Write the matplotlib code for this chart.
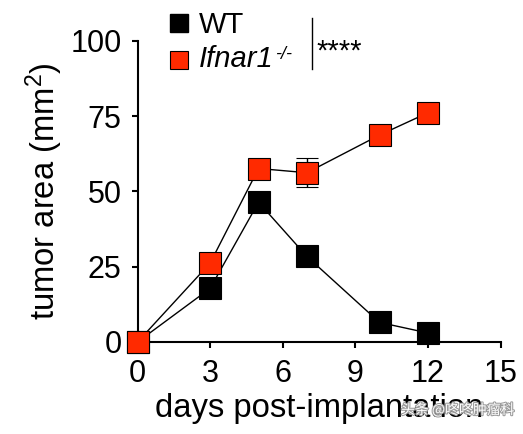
import matplotlib
matplotlib.use('Agg')
import matplotlib.pyplot as plt
import matplotlib.patheffects as pe
from matplotlib.lines import Line2D

plt.rcParams['font.family'] = ['Liberation Sans', 'DejaVu Sans']
plt.rcParams['mathtext.fontset'] = 'custom'
plt.rcParams['mathtext.rm'] = 'Liberation Sans'
plt.rcParams['mathtext.it'] = 'Liberation Sans:italic'

# data
days = [0, 3, 5, 7, 10, 12]
wt = [0, 17.8, 46.4, 28.4, 6.5, 3.0]
ko = [0, 26.2, 57.6, 56.2, 68.7, 76.1]
ko_err = [0, 0, 0, 4.8, 0, 0]
xticks = [0, 3, 6, 9, 12, 15]
yticks = [0, 25, 50, 75, 100]

RED = '#FF2A00'
FS = 22
LFS = 23.6

fig = plt.figure(figsize=(5.23, 4.34), dpi=100)
ax = fig.add_axes([0.263, 0.212, 0.694, 0.694])

ax.plot(days, wt, color='black', lw=1, marker='s', ms=15.5,
        mfc='black', mec='black', mew=0.8, clip_on=False, zorder=3)
ax.errorbar(days, ko, yerr=ko_err, color='black', lw=1, marker='s', ms=15.5,
            mfc=RED, mec='black', mew=0.8, capsize=8, capthick=1,
            elinewidth=1, clip_on=False, zorder=4)

ax.set_xlim(0, 15)
ax.set_ylim(0, 100)
ax.set_xticks(xticks)
ax.set_yticks(yticks)
for s in ['top', 'right']:
    ax.spines[s].set_visible(False)
for s in ['left', 'bottom']:
    ax.spines[s].set_linewidth(1.5)
ax.tick_params(length=4.5, width=1.5, labelsize=FS)
ax.tick_params(axis='x', pad=8)
ax.tick_params(axis='y', pad=7)
ax.set_xlabel('days post-implantation', fontsize=LFS)
ax.set_ylabel('tumor area (mm$^2$)', fontsize=LFS)
ax.xaxis.set_label_coords(0.5, -0.17)
ax.yaxis.set_label_coords(-0.2, 0.5)

# legend drawn by hand
W, H = 523, 434
def fx(px): return px / W
def fy(py): return 1 - py / H

fig.add_artist(Line2D([fx(179)], [fy(23)], marker='s', ms=13.5,
                      mfc='black', mec='black', ls='none'))
fig.add_artist(Line2D([fx(179)], [fy(60)], marker='s', ms=13.5,
                      mfc=RED, mec='black', mew=0.8, ls='none'))
fig.text(fx(199), fy(33), 'WT', fontsize=21, va='baseline')
t = fig.text(fx(199), fy(67), 'Ifnar1', fontsize=21, style='italic',
             va='baseline')
r = fig.canvas.get_renderer()
bb = t.get_window_extent(renderer=r)
fig.text(fx(bb.x1 + 1), fy(59), '-/-', fontsize=13, style='italic',
         va='baseline')
fig.add_artist(Line2D([fx(311.5), fx(311.5)], [fy(18), fy(69)],
                      color='black', lw=1))
fig.text(fx(316), fy(60), '****', fontsize=21, va='baseline')

# watermark
fig.text(fx(401), fy(410), '头条 @咚咚肿瘤科', fontsize=10, color='white',
         va='center', family=['Noto Sans CJK SC', 'DejaVu Sans'],
         path_effects=[pe.withStroke(linewidth=1.5, foreground='#9a9a9a')])

fig.savefig('out.png', dpi=100)
